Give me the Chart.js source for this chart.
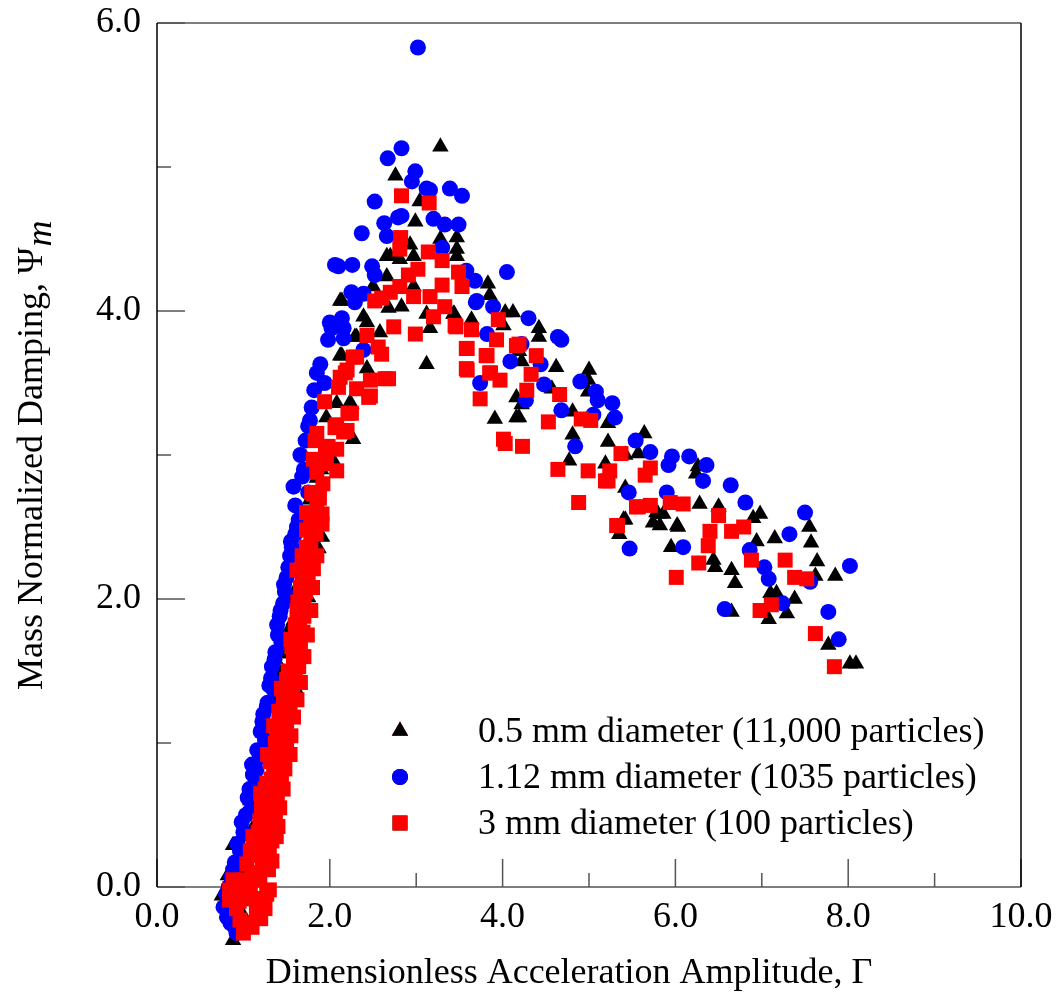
<!DOCTYPE html>
<html>
<head>
<meta charset="utf-8">
<script src="https://cdn.jsdelivr.net/npm/chart.js@4.4.0/dist/chart.umd.min.js"></script>
<style>
html, body { margin: 0; padding: 0; background: #fff; }
</style>
</head>
<body>
<canvas id="chart" width="1058" height="995"></canvas>
<script>
// Γ (x) vs Ψm (y)
const small05 = [
  [0.75,-0.06],[0.88,-0.37],[1.23,-0.12],[0.88,0.29],[1.08,0.60],[1.00,0.10],[1.10,0.40],[1.20,0.70],
  [1.30,0.90],[1.35,1.30],[1.42,1.18],[1.45,1.50],[1.60,1.38],[1.52,1.78],[1.55,2.00],[1.65,2.20],
  [0.82,0.08],[0.95,0.20],[1.02,0.35],[1.12,0.55],[1.17,0.75],[1.25,0.95],[1.30,1.10],[1.38,1.28],
  [1.45,1.45],[1.50,1.62],[1.58,1.85],[1.62,2.08],[1.70,2.30],[1.74,2.48],[1.82,2.70],[1.90,2.90],
  [1.00,-0.20],[1.10,-0.10],
  [1.75,2.01],[1.87,2.35],[1.91,2.43],[1.77,2.57],[1.77,2.69],[1.85,2.84],[2.04,2.96],[1.96,3.26],
  [2.08,3.36],[2.23,3.36],[2.25,3.35],[2.27,3.11],[2.12,3.69],[2.14,3.69],[2.43,3.60],[2.29,3.82],
  [2.31,3.82],[2.58,3.85],[2.39,3.96],[2.43,3.92],[2.12,4.07],[2.14,4.07],[2.66,4.38],[2.50,4.17],
  [3.28,5.14],[2.76,4.94],[3.04,4.76],[2.99,4.62],[3.28,4.50],[3.47,4.51],[3.47,4.43],[3.47,4.38],
  [2.93,4.46],[2.70,4.38],[2.81,4.36],[2.97,4.38],[2.66,4.24],[3.83,4.19],[3.85,4.11],[2.68,4.02],
  [2.83,4.03],[2.97,4.17],[3.12,3.98],[3.16,3.88],[3.43,3.98],[3.64,3.94],[4.03,3.99],[4.12,3.99],
  [3.12,3.63],[3.91,3.25],[4.16,3.40],[4.16,3.26],[3.44,3.98],[4.01,3.90],[4.42,3.88],[4.42,3.82],
  [4.19,3.72],[4.22,3.65],[4.62,3.61],[5.00,3.59],[4.99,3.52],[4.99,3.44],[4.22,3.35],[4.57,3.46],
  [4.19,3.26],[4.81,3.30],[4.81,3.14],[5.22,3.22],[5.22,3.09],[4.77,2.96],[5.19,2.94],[5.42,3.00],
  [5.64,3.15],[5.42,2.77],[5.35,2.45],[5.42,2.55],[5.80,2.59],[6.02,2.51],[6.26,2.92],[6.24,2.87],
  [6.28,2.66],[5.57,3.01],[5.86,2.59],[5.82,2.51],[5.74,2.53],[6.03,2.50],[6.50,2.64],[6.98,2.59],
  [6.90,2.56],[7.15,2.42],[6.94,2.40],[7.55,2.50],[7.57,2.39],[7.64,2.26],[7.62,2.16],[7.85,2.16],
  [5.40,2.55],[5.95,2.36],[6.44,2.27],[6.46,2.22],[6.65,2.20],[6.69,2.11],[7.10,2.04],[7.17,2.04],
  [7.38,2.00],[7.29,1.90],[7.08,1.86],[6.65,1.91],[5.78,2.60],[7.77,1.68],[8.02,1.55],[8.09,1.55]
];
const mid112 = [
  [0.77,-0.14],[0.81,-0.21],[0.92,-0.32],[1.00,-0.30],[0.86,0.07],[0.90,0.17],[0.96,0.25],[1.00,0.38],
  [0.80,-0.05],[0.83,0.00],[0.88,0.12],[0.93,0.30],[0.98,0.45],[1.03,0.50],[1.07,0.68],[1.10,0.85],
  [1.16,0.95],[1.20,1.08],[1.22,1.15],[1.27,1.25],[1.30,1.40],[1.32,1.45],[1.36,1.58],[1.40,1.75],
  [1.43,1.92],[1.47,2.10],[1.52,2.22],[1.55,2.40],[1.62,2.50],[1.60,2.65],[1.68,2.85],[1.72,3.10],
  [1.75,3.20],[1.82,3.45],[0.85,-0.25],[0.90,-0.28],
  [1.05,0.62],[1.08,0.53],[1.13,0.70],[1.11,0.78],[1.15,0.81],[1.19,0.90],[1.25,1.02],[1.23,1.20],
  [1.28,1.28],[1.35,1.37],[1.33,1.53],[1.37,1.63],[1.44,1.70],[1.39,1.82],[1.42,1.88],[1.46,1.97],
  [1.48,2.05],[1.50,2.15],[1.54,2.30],[1.56,2.36],[1.60,2.45],[1.64,2.55],[1.58,2.78],[1.75,2.74],
  [1.70,2.90],[1.66,3.00],[1.77,3.24],[1.79,3.33],[1.94,3.50],[1.85,3.57],[1.89,3.63],[2.39,3.73],
  [1.98,3.80],[2.16,3.81],[2.02,3.88],[2.16,3.88],[2.00,3.92],[2.14,3.95],[2.29,4.06],[2.39,4.12],
  [2.25,4.13],[2.06,4.32],[2.10,4.31],[2.26,4.32],[2.49,4.31],[2.52,4.25],[2.37,4.54],[2.66,4.52],
  [2.63,4.61],[2.79,4.65],[2.83,4.66],[2.52,4.76],[2.67,5.06],[2.83,5.13],[2.99,4.97],[2.95,4.90],
  [3.12,4.85],[3.16,4.84],[3.39,4.85],[3.53,4.80],[3.20,4.64],[3.33,4.60],[3.49,4.60],[3.30,4.44],
  [3.02,5.83],[3.58,4.28],[3.68,4.21],[4.05,4.27],[3.70,4.07],[3.89,4.03],[3.82,3.84],[4.09,3.65],
  [3.74,3.50],[3.69,4.06],[4.30,3.95],[4.64,3.82],[4.68,3.80],[4.22,3.77],[4.44,3.63],[4.48,3.49],
  [4.27,3.38],[4.90,3.51],[5.08,3.44],[5.10,3.38],[5.27,3.36],[5.30,3.26],[4.68,3.31],[5.05,3.28],
  [4.84,3.06],[5.54,3.10],[5.71,3.02],[5.46,2.74],[5.47,2.35],[5.96,2.99],[5.92,2.93],[6.16,2.99],
  [6.36,2.93],[6.32,2.82],[6.64,2.79],[6.81,2.67],[7.50,2.60],[7.32,2.45],[5.90,2.74],[6.09,2.36],
  [6.86,2.34],[7.03,2.22],[7.08,2.14],[8.02,2.23],[7.56,2.12],[6.57,1.93],[7.24,1.97],[7.77,1.91],
  [7.89,1.72]
];
const large3 = [
  [1.35,0.78],[1.44,0.76],[1.27,0.72],[1.39,0.65],[1.21,0.56],[1.39,0.58],[1.19,0.46],[1.37,0.46],
  [1.11,0.35],[1.33,0.32],[1.08,0.25],[1.25,0.21],[1.04,0.16],[1.29,0.12],[0.88,0.05],[1.19,0.05],
  [0.84,-0.02],[1.08,-0.05],[1.27,-0.05],[0.96,-0.23],[1.15,-0.18],[1.19,-0.12],[0.84,-0.09],[1.04,-0.25],
  [0.95,-0.10],[1.00,0.05],[1.10,0.10],[1.15,0.30],[1.25,0.40],[1.30,0.60],[1.20,0.65],
  [1.00,-0.32],[1.10,-0.28],[1.20,-0.22],[1.25,-0.15],[0.92,-0.15],[1.12,-0.08],[1.30,-0.02],[0.98,0.00],
  [1.05,0.02],[1.15,0.08],[1.22,0.14],[1.33,0.18],[1.12,0.22],[1.20,0.28],[1.30,0.27],[1.38,0.35],
  [1.17,0.38],[1.27,0.45],[1.40,0.42],[1.22,0.50],[1.28,0.55],[1.42,0.55],[1.33,0.62],[1.25,0.68],
  [1.46,0.68],[1.32,0.75],[1.48,0.82],[1.36,0.85],[1.28,0.92],[1.44,0.95],[1.54,0.92],[1.42,1.02],
  [1.55,1.05],[1.35,1.12],[1.47,1.12],[1.58,1.18],[1.41,1.22],[1.52,1.22],[1.62,1.30],[1.44,1.38],
  [1.57,1.35],[1.66,1.42],[1.52,1.50],[1.60,1.58],[1.70,1.60],[1.55,1.72],[1.66,1.70],[1.74,1.75],
  [1.60,1.82],[1.70,1.88],[1.78,1.92],[1.63,1.98],[1.72,2.05],[1.80,2.08],[1.68,2.12],[1.85,2.30],
  [1.70,2.25],[1.78,2.38],[1.84,2.45],[1.82,2.55],[1.88,2.70],[1.92,2.80],[1.85,2.88],[1.95,3.00],
  [1.31,0.87],[1.50,0.97],[1.37,1.00],[1.39,1.10],[1.50,1.15],[1.54,1.27],[1.46,1.32],[1.60,1.44],
  [1.50,1.44],[1.64,1.53],[1.56,1.67],[1.69,1.77],[1.62,1.92],[1.66,2.08],[1.62,2.20],[1.81,2.21],
  [1.73,2.36],[1.91,2.52],[1.73,2.48],[1.73,2.60],[1.91,2.59],[1.81,2.73],[1.89,2.96],
  [1.42,0.90],[1.45,1.05],[1.55,1.40],[1.58,1.60],[1.65,1.85],[1.70,2.00],[1.75,2.15],[1.68,2.30],
  [1.78,2.50],[1.85,2.65],[1.79,2.74],[1.96,2.94],[2.08,2.89],[1.81,2.97],[2.08,3.04],[1.98,3.06],
  [1.83,3.10],[2.20,3.17],[2.08,3.21],[2.25,3.29],[1.94,3.37],[2.31,3.46],[2.10,3.47],[2.47,3.41],
  [2.18,3.57],[2.68,3.53],[2.31,3.68],[2.56,3.75],[2.43,3.83],[2.52,4.07],[2.83,4.80],[3.15,4.75],
  [2.82,4.51],[2.81,4.43],[3.14,4.41],[3.30,4.35],[3.02,4.29],[2.91,4.25],[3.49,4.27],[3.53,4.17],
  [3.30,4.18],[2.81,4.17],[2.70,4.13],[2.60,4.09],[2.97,4.10],[3.16,4.10],[3.33,4.03],[3.20,3.96],
  [2.74,3.89],[2.99,3.84],[3.45,3.90],[3.64,3.87],[3.95,3.94],[3.93,3.80],[4.16,3.76],[2.60,3.70],
  [2.27,3.68],[2.20,3.59],[2.12,3.54],[2.64,3.53],[2.47,3.52],[3.58,3.74],[3.82,3.69],[3.58,3.60],
  [3.85,3.57],[3.97,3.52],[2.45,3.40],[3.74,3.39],[2.21,3.29],[2.06,3.19],[1.85,3.15],[2.16,3.16],
  [4.01,3.11],[3.46,3.89],[3.59,3.74],[4.19,3.77],[3.81,3.69],[4.39,3.69],[3.59,3.59],[3.86,3.57],
  [4.33,3.56],[4.28,3.45],[4.66,3.42],[4.53,3.23],[4.91,3.25],[5.02,3.24],[4.03,3.08],[4.23,3.06],
  [5.37,3.01],[4.64,2.90],[4.99,2.89],[5.24,2.89],[5.22,2.82],[5.71,2.91],[4.88,2.67],[5.33,2.51],
  [5.57,2.64],[5.19,2.82],[5.65,2.86],[5.55,2.64],[5.71,2.65],[5.94,2.67],[6.09,2.66],[5.32,2.51],
  [6.50,2.58],[6.40,2.47],[6.38,2.37],[6.65,2.47],[6.79,2.50],[6.27,2.25],[6.01,2.15],[6.88,2.27],
  [7.27,2.27],[7.38,2.15],[7.52,2.14],[6.98,1.92],[7.11,1.96],[7.62,1.76],[7.84,1.53]
];
const seriesLabels = ['0.5 mm diameter (11,000 particles)', '1.12 mm diameter (1035 particles)', '3 mm diameter (100 particles)'];
const xMajorTicks = [0, 2, 4, 6, 8, 10];
const xMinorTicks = [1, 3, 5, 7, 9];
const yMajorTicks = [0, 2, 4, 6];
const yMinorTicks = [1, 3, 5];

const serif = '"Liberation Serif", "Times New Roman", serif';
const toPts = arr => arr.map(p => ({ x: p[0], y: p[1] }));

// frame + inward ticks (bottom edge sits at y = 0; the area runs a bit lower so
// the points that dip below zero are still drawn)
const frame = {
  id: 'frame',
  beforeDatasetsDraw(chart) {
    const { ctx, scales: { x, y } } = chart;
    const L = x.getPixelForValue(0), R = x.getPixelForValue(10);
    const T = y.getPixelForValue(6), B = y.getPixelForValue(0);
    ctx.save();
    ctx.lineWidth = 1.5;
    ctx.strokeStyle = '#555';
    const seg = (x1, y1, x2, y2) => { ctx.beginPath(); ctx.moveTo(x1, y1); ctx.lineTo(x2, y2); ctx.stroke(); };
    xMajorTicks.forEach(v => { const p = x.getPixelForValue(v); seg(p, B, p, B - 28); });
    xMinorTicks.forEach(v => { const p = x.getPixelForValue(v); seg(p, B, p, B - 14); });
    yMajorTicks.forEach(v => { const p = y.getPixelForValue(v); seg(L, p, L + 28, p); });
    yMinorTicks.forEach(v => { const p = y.getPixelForValue(v); seg(L, p, L + 14, p); });
    seg(L, T, R, T);
    seg(L, B, R, B);
    ctx.strokeStyle = '#000';
    seg(L, T, L, B);
    seg(R, T, R, B);
    ctx.restore();
  }
};

// axis titles and the in-plot legend
const labels = {
  id: 'labels',
  afterDraw(chart) {
    const ctx = chart.ctx;
    ctx.save();
    ctx.fillStyle = '#000';
    ctx.font = '36px ' + serif;
    ctx.textAlign = 'center';
    ctx.textBaseline = 'alphabetic';
    ctx.fillText('Dimensionless Acceleration Amplitude, \u0393', 569, 983);

    ctx.translate(42, 690);
    ctx.rotate(-Math.PI / 2);
    ctx.textAlign = 'left';
    const main = 'Mass Normalized Damping, \u03A8';
    ctx.fillText(main, 0, 0);
    const w = ctx.measureText(main).width;
    ctx.font = 'italic 36px ' + serif;
    ctx.fillText('m', w + 1, 9);
    ctx.restore();

    ctx.save();
    ctx.font = '36px ' + serif;
    ctx.textAlign = 'left';
    ctx.textBaseline = 'middle';
    chart.data.datasets.forEach((ds, i) => {
      const cy = 731 + i * 46;
      Chart.helpers.drawPoint(ctx, {
        pointStyle: ds.pointStyle, radius: ds.pointRadius, borderWidth: 0, rotation: 0
      }, 400, cy);
      ctx.fillStyle = ds.backgroundColor;
      ctx.fill();
      ctx.fillStyle = '#000';
      ctx.fillText(seriesLabels[i], 478, cy + 2);
    });
    ctx.restore();
  }
};

new Chart(document.getElementById('chart'), {
  type: 'scatter',
  data: {
    datasets: [
      { label: seriesLabels[0], data: toPts(small05), pointStyle: 'triangle', pointRadius: 9.5,
        backgroundColor: '#000000', borderWidth: 0, order: 2, clip: false },
      { label: seriesLabels[1], data: toPts(mid112), pointStyle: 'circle', pointRadius: 8,
        backgroundColor: '#0000ff', borderWidth: 0, order: 1, clip: false },
      { label: seriesLabels[2], data: toPts(large3), pointStyle: 'rect', pointRadius: 10.6,
        backgroundColor: '#ff0000', borderWidth: 0, order: 0, clip: false }
    ]
  },
  options: {
    responsive: false,
    animation: false,
    events: [],
    layout: { padding: { top: 23, right: 37, left: 0, bottom: 36 } },
    plugins: { legend: { display: false }, tooltip: { enabled: false } },
    scales: {
      x: {
        type: 'linear', min: 0, max: 10,
        position: { y: 0 },
        afterBuildTicks: s => { s.ticks = xMajorTicks.map(v => ({ value: v })); },
        afterFit: s => { s.paddingLeft = 0; s.paddingRight = 0; },
        grid: { display: false, drawTicks: false },
        border: { display: false },
        ticks: { font: { family: serif, size: 36 }, color: '#000', padding: 9, maxRotation: 0,
                 callback: v => v.toFixed(1) }
      },
      y: {
        type: 'linear', min: -0.5, max: 6,
        afterBuildTicks: s => { s.ticks = yMajorTicks.map(v => ({ value: v })); },
        afterFit: s => { s.width = 157; s.paddingTop = 0; s.paddingBottom = 0; },
        grid: { display: false, drawTicks: false },
        border: { display: false },
        ticks: { font: { family: serif, size: 36 }, color: '#000', padding: 16,
                 callback: v => v.toFixed(1) }
      }
    }
  },
  plugins: [frame, labels]
});
</script>
</body>
</html>
